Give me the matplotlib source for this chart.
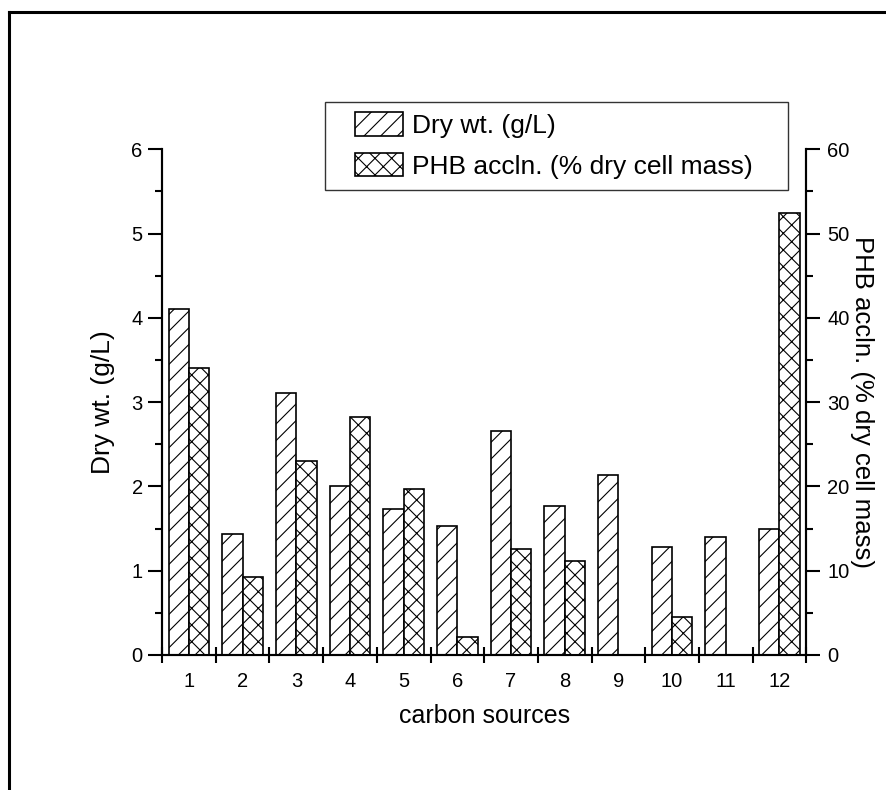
import matplotlib.pyplot as plt
import numpy as np
from matplotlib.lines import Line2D
from matplotlib.patches import Rectangle
from matplotlib.ticker import MultipleLocator, FixedLocator

plt.rcParams['font.family'] = ['Liberation Sans', 'DejaVu Sans']
plt.rcParams['hatch.linewidth'] = 0.8

# fontes de carbono testadas
fontes = np.arange(1, 13)

# peso seco (g/L) e acumulo de PHB (% massa celular seca)
peso_seco = [4.10, 1.44, 3.11, 2.00, 1.73, 1.53, 2.66, 1.77, 2.13, 1.28, 1.40, 1.50]
acumulo_phb = [34.1, 9.2, 23.0, 28.2, 19.7, 2.1, 12.6, 11.2, 0.0, 4.5, 0.0, 52.5]

largura = 0.38
W, H = 886, 790

fig = plt.figure(figsize=(W / 100, H / 100), dpi=100)
ax = fig.add_axes([0.183, 0.171, 0.727, 0.640])
ax2 = ax.twinx()

b1 = ax.bar(fontes - largura / 2, peso_seco, largura, color='white',
            edgecolor='black', linewidth=1.2, hatch='//', label='Dry wt. (g/L)')
b2 = ax2.bar(fontes + largura / 2, acumulo_phb, largura, color='white',
             edgecolor='black', linewidth=1.2, hatch='xx',
             label='PHB accln. (% dry cell mass)')

ax.set_xlim(0.5, 12.5)
ax.set_ylim(0, 6)
ax2.set_ylim(0, 60)

for a in (ax, ax2):
    a.spines['top'].set_visible(False)
    for s in ('left', 'right', 'bottom'):
        a.spines[s].set_linewidth(1.5)

# eixo x: rotulos no centro, marcas entre os grupos
ax.xaxis.set_major_locator(FixedLocator(fontes))
ax.set_xticklabels([str(f) for f in fontes])
ax.xaxis.set_minor_locator(FixedLocator(np.arange(0.5, 13, 1)))
ax.tick_params(axis='x', which='major', length=0, pad=12, labelsize=14.5)
ax.tick_params(axis='x', which='minor', direction='inout', length=11, width=1.5)

ax.yaxis.set_major_locator(MultipleLocator(1))
ax.yaxis.set_minor_locator(MultipleLocator(0.5))
ax.tick_params(axis='y', which='major', direction='out', length=10, width=1.5,
               labelsize=14.5, pad=4)
ax.tick_params(axis='y', which='minor', direction='out', length=5, width=1.5)

ax2.yaxis.set_major_locator(MultipleLocator(10))
ax2.yaxis.set_minor_locator(MultipleLocator(5))
ax2.tick_params(axis='y', which='major', direction='out', length=10, width=1.5,
                labelsize=14.5, pad=5)
ax2.tick_params(axis='y', which='minor', direction='out', length=5, width=1.5)

ax.set_xlabel('carbon sources', fontsize=18, labelpad=10)
ax.set_ylabel('Dry wt. (g/L)', fontsize=19, labelpad=12)
ax2.set_ylabel('PHB accln. (% dry cell mass)', fontsize=18.5, rotation=270,
               labelpad=18)

# legenda sem moldura propria; a caixa vai desenhada a parte
leg = ax.legend([b1, b2], [b1.get_label(), b2.get_label()],
                loc='upper left', bbox_to_anchor=((355 - 162) / 644, (655 - 112) / 506),
                fontsize=19, frameon=False, handlelength=1.8,
                handleheight=1.0, borderpad=0, labelspacing=0.55,
                handletextpad=0.35, borderaxespad=0)
fig.add_artist(Rectangle((325 / W, 1 - 190 / H), (788 - 325) / W, 88 / H,
                         transform=fig.transFigure, fill=False,
                         edgecolor='#333333', linewidth=1.0))

# moldura da figura
fig.add_artist(Line2D([9 / W, 9 / W], [0, 1 - 12 / H], color='black', lw=2.2))
fig.add_artist(Line2D([9 / W, 1], [1 - 12 / H, 1 - 12 / H], color='black', lw=2.2))

fig.savefig('out.png', dpi=100)
